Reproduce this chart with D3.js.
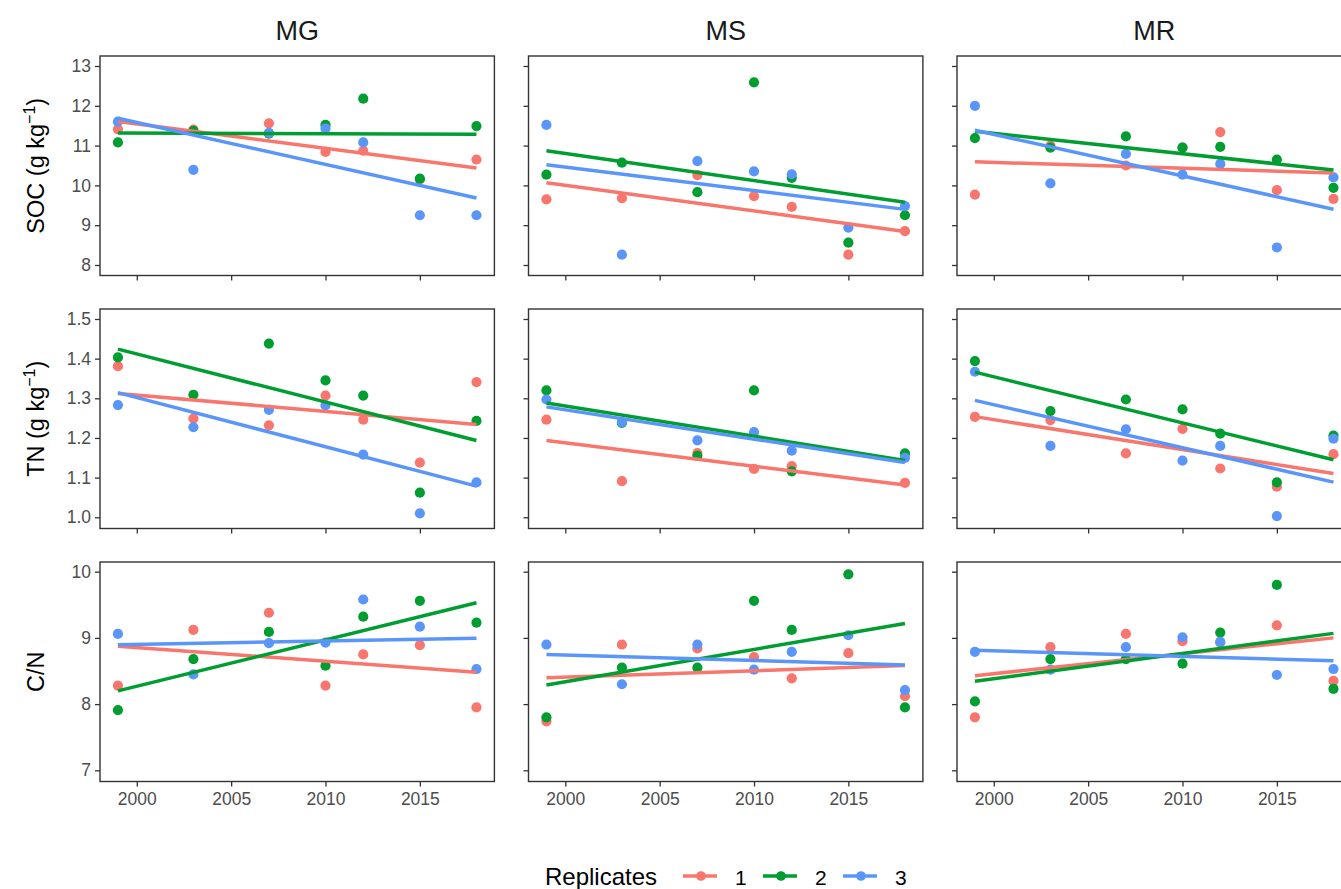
<!DOCTYPE html>
<html>
<head>
<meta charset="utf-8">
<script src="https://cdn.jsdelivr.net/npm/d3@7"></script>
<style>
  html, body { margin: 0; padding: 0; background: #fff; }
  svg { display: block; font-family: "Liberation Sans", Arial, sans-serif; }
</style>
</head>
<body>
<svg id="chart" width="1341" height="889"></svg>
<script>
// Sampling years and facet labels
const years = [1999, 2003, 2007, 2010, 2012, 2015, 2018];
const sites = ["MG", "MS", "MR"];
const variables = ["SOC", "TN", "CN"];
const replicates = ["1", "2", "3"];
const replicateColors = ["#F8766D", "#009E31", "#5A96FA"];

// Soil organic carbon (g/kg), one array per site, rows = replicates 1..3
const socMG = [
  [11.41, 11.40, 11.56, 10.84, 10.87, 10.15, 10.65],
  [11.08, 11.37, 11.30, 11.52, 12.18, 10.17, 11.49],
  [11.60, 10.39, 11.32, 11.43, 11.08, 9.25, 9.25]
];
const socMS = [
  [9.65, 9.68, 10.26, 9.73, 9.46, 8.26, 8.85],
  [10.27, 10.57, 9.83, 12.59, 10.19, 8.56, 9.25],
  [11.52, 8.26, 10.61, 10.35, 10.28, 8.94, 9.48]
];
const socMR = [
  [9.77, 11.00, 10.50, 10.95, 11.34, 9.88, 9.66],
  [11.19, 10.95, 11.23, 10.95, 10.97, 10.65, 9.94],
  [12.00, 10.05, 10.79, 10.27, 10.54, 8.44, 10.20]
];

// Total nitrogen (g/kg); MS has no 2015 measurement
const tnMG = [
  [1.381, 1.249, 1.232, 1.307, 1.246, 1.138, 1.341],
  [1.403, 1.309, 1.438, 1.345, 1.307, 1.062, 1.243],
  [1.283, 1.227, 1.271, 1.282, 1.158, 1.010, 1.088]
];
const tnMS = [
  [1.246, 1.091, 1.162, 1.122, 1.129, null, 1.087],
  [1.320, 1.238, 1.155, 1.320, 1.116, null, 1.161],
  [1.297, 1.240, 1.194, 1.215, 1.168, null, 1.150]
];
const tnMR = [
  [1.253, 1.245, 1.161, 1.223, 1.123, 1.077, 1.159],
  [1.394, 1.268, 1.297, 1.272, 1.211, 1.088, 1.206],
  [1.367, 1.180, 1.222, 1.143, 1.180, 1.003, 1.198]
];

// Carbon to nitrogen ratio
const cnMG = [
  [8.28, 9.12, 9.38, 8.28, 8.75, 8.89, 7.95],
  [7.91, 8.68, 9.09, 8.58, 9.32, 9.56, 9.23],
  [9.06, 8.45, 8.92, 8.93, 9.58, 9.17, 8.53]
];
const cnMS = [
  [7.74, 8.90, 8.84, 8.71, 8.39, 8.77, 8.12],
  [7.80, 8.55, 8.55, 9.56, 9.12, 9.96, 7.95],
  [8.90, 8.30, 8.90, 8.52, 8.79, 9.04, 8.21]
];
const cnMR = [
  [7.80, 8.86, 9.06, 8.95, 8.93, 9.19, 8.35],
  [8.04, 8.68, 8.68, 8.61, 9.08, 9.80, 8.23],
  [8.79, 8.52, 8.86, 9.01, 8.94, 8.44, 8.53]
];

// Axis ticks
const xTicks = [2000, 2005, 2010, 2015];
const socTicks = [8, 9, 10, 11, 12, 13];
const tnTicks = [1.0, 1.1, 1.2, 1.3, 1.4, 1.5];
const cnTicks = [7, 8, 9, 10];

const panelData = {
  SOC: { MG: socMG, MS: socMS, MR: socMR },
  TN: { MG: tnMG, MS: tnMS, MR: tnMR },
  CN: { MG: cnMG, MS: cnMS, MR: cnMR }
};

const rowSpec = {
  SOC: { domain: [7.736, 13.251], ticks: socTicks, fmt: d3.format("d") },
  TN: { domain: [0.9717, 1.5252], ticks: tnTicks, fmt: d3.format(".1f") },
  CN: { domain: [6.831, 10.1465], ticks: cnTicks, fmt: d3.format("d") }
};

// Layout
const colLeft = [100, 528.5, 957];
const rowTop = [56, 309, 562];
const panelW = 394.4;
const panelH = 219.5;
const frameColor = "#333333";
const tickTextColor = "#4D4D4D";
const tickFont = 17.5;

const svg = d3.select("#chart");

const x = d3.scaleLinear().domain([1998.05, 2018.95]).range([0, panelW]);

// ordinary least-squares fit over the years that have a value
function fitLine(xs, ys) {
  const pts = xs.map((v, i) => [v, ys[i]]).filter(p => p[1] != null);
  const mx = d3.mean(pts, p => p[0]);
  const my = d3.mean(pts, p => p[1]);
  let sxy = 0, sxx = 0;
  pts.forEach(p => { sxy += (p[0] - mx) * (p[1] - my); sxx += (p[0] - mx) ** 2; });
  const b = sxy / sxx;
  const a = my - b * mx;
  const x0 = d3.min(pts, p => p[0]), x1 = d3.max(pts, p => p[0]);
  return [[x0, a + b * x0], [x1, a + b * x1]];
}

variables.forEach((vname, ri) => {
  const spec = rowSpec[vname];
  const y = d3.scaleLinear().domain(spec.domain).range([panelH, 0]);

  sites.forEach((site, ci) => {
    const g = svg.append("g")
      .attr("transform", `translate(${colLeft[ci]},${rowTop[ri]})`);

    const clipId = `clip-${vname}-${site}`;
    g.append("clipPath").attr("id", clipId)
      .append("rect").attr("width", panelW).attr("height", panelH);

    const marks = g.append("g").attr("clip-path", `url(#${clipId})`);
    const series = panelData[vname][site];

    // points
    series.forEach((vals, k) => {
      marks.selectAll(null)
        .data(years.map((yr, i) => ({ yr, v: vals[i] })).filter(d => d.v != null))
        .join("circle")
        .attr("cx", d => x(d.yr))
        .attr("cy", d => y(d.v))
        .attr("r", 5.1)
        .attr("fill", replicateColors[k]);
    });

    // trend lines
    const line = d3.line().x(d => x(d[0])).y(d => y(d[1]));
    series.forEach((vals, k) => {
      marks.append("path")
        .attr("d", line(fitLine(years, vals)))
        .attr("fill", "none")
        .attr("stroke", replicateColors[k])
        .attr("stroke-width", 3.5);
    });

    // panel border
    g.append("rect")
      .attr("width", panelW).attr("height", panelH)
      .attr("fill", "none").attr("stroke", frameColor).attr("stroke-width", 1.4);

    // y axis
    const yAxis = g.append("g")
      .call(d3.axisLeft(y).tickValues(spec.ticks).tickSize(5).tickPadding(4)
        .tickFormat(ci === 0 ? spec.fmt : ""));
    yAxis.select(".domain").remove();
    yAxis.selectAll(".tick line").attr("stroke", frameColor).attr("stroke-width", 1.3);
    yAxis.selectAll(".tick text").attr("fill", tickTextColor).attr("font-size", tickFont)
      .attr("font-family", "Liberation Sans, Arial, sans-serif");

    // x axis
    const xAxis = g.append("g").attr("transform", `translate(0,${panelH})`)
      .call(d3.axisBottom(x).tickValues(xTicks).tickSize(5).tickPadding(6)
        .tickFormat(ri === 2 ? d3.format("d") : ""));
    xAxis.select(".domain").remove();
    xAxis.selectAll(".tick line").attr("stroke", frameColor).attr("stroke-width", 1.3);
    xAxis.selectAll(".tick text").attr("fill", tickTextColor).attr("font-size", tickFont)
      .attr("font-family", "Liberation Sans, Arial, sans-serif");

    // strip label
    if (ri === 0) {
      svg.append("text")
        .attr("x", colLeft[ci] + panelW / 2)
        .attr("y", 40)
        .attr("text-anchor", "middle")
        .attr("font-size", 27)
        .attr("fill", "#1a1a1a")
        .text(site);
    }
  });
});

// Row titles
function rowTitle(ri, main, withUnit) {
  const cy = rowTop[ri] + panelH / 2;
  const t = svg.append("text")
    .attr("transform", `translate(44,${cy}) rotate(-90)`)
    .attr("text-anchor", "middle")
    .attr("font-size", 23.5)
    .attr("fill", "#000");
  if (withUnit) {
    t.append("tspan").text(main + " (g kg");
    t.append("tspan").attr("dy", -9).attr("font-size", 16).text("\u22121");
    t.append("tspan").attr("dy", 9).text(")");
  } else {
    t.text(main);
  }
}
rowTitle(0, "SOC", true);
rowTitle(1, "TN", true);
rowTitle(2, "C/N", false);

// Legend
const legend = svg.append("g");
legend.append("text")
  .attr("x", 545).attr("y", 885)
  .attr("font-size", 24).attr("fill", "#000")
  .text("Replicates");
const keyX = [683, 763, 843];
replicates.forEach((r, k) => {
  const kg = legend.append("g").attr("transform", `translate(${keyX[k]},876)`);
  kg.append("line").attr("x1", 0).attr("x2", 34).attr("y1", 0).attr("y2", 0)
    .attr("stroke", replicateColors[k]).attr("stroke-width", 3.5);
  kg.append("circle").attr("cx", 18).attr("cy", 0).attr("r", 4.8)
    .attr("fill", replicateColors[k]);
  kg.append("text").attr("x", 52).attr("y", 9)
    .attr("font-size", 21).attr("fill", "#000").text(r);
});
</script>
</body>
</html>
